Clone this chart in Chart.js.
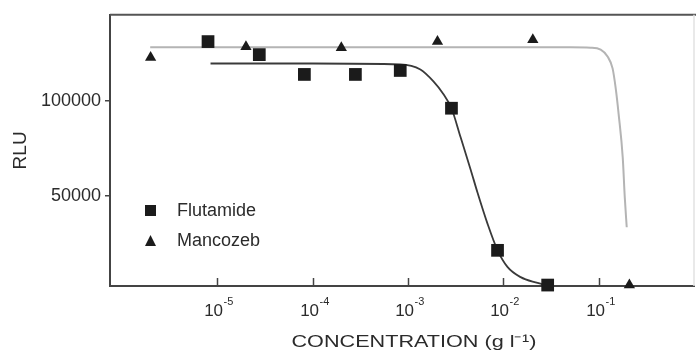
<!DOCTYPE html>
<html>
<head>
<meta charset="utf-8">
<script src="https://cdn.jsdelivr.net/npm/chart.js@4/dist/chart.umd.min.js"></script>
<style>
  html, body { margin: 0; padding: 0; background: #fff; }
  canvas { display: block; }
</style>
</head>
<body>
<canvas id="chart" width="696" height="350"></canvas>
<script>
// measured points (concentration in g/l, response in RLU)
const flutConc = [8.0e-6, 2.76e-5, 8.2e-5, 2.81e-4, 8.3e-4, 2.86e-3, 8.7e-3, 2.92e-2];
const flutRLU = [131600, 124700, 114200, 114200, 116300, 96300, 21000, 2600];
const mancConc = [2.0e-6, 2.0e-5, 2.0e-4, 2.04e-3, 2.04e-2, 0.21];
const mancRLU = [123200, 128900, 128400, 131600, 132600, 2600];

// fitted curves
const flutFitConc = [8.5e-6, 1e-4, 8.3e-4, 1.35e-3, 1.85e-3, 2.36e-3, 2.86e-3, 3.56e-3, 4.53e-3, 5.37e-3, 6.84e-3, 8.71e-3, 1.11e-2, 1.52e-2, 2.29e-2, 2.92e-2];
const flutFitRLU = [120000, 120000, 119500, 116800, 110500, 103700, 96300, 81000, 64000, 51500, 35000, 21000, 12100, 6800, 3700, 2100];
const mancFitConc = [1.98e-6, 5.08e-2, 8.24e-2, 0.105, 0.124, 0.140, 0.151, 0.162, 0.179, 0.188, 0.197];
const mancFitRLU = [128600, 128600, 128400, 127400, 123700, 117400, 106800, 93200, 70000, 48900, 33200];

// axes
const xTicks = [1e-5, 1e-4, 1e-3, 1e-2, 1e-1];
const xTickExp = ['-5', '-4', '-3', '-2', '-1'];
const yTicks = [50000, 100000];

const FONT = "'Liberation Sans', Arial, sans-serif";
const INK = '#2b2b2b';

function pts(xs, ys) {
    return xs.map((x, i) => ({ x: x, y: ys[i] }));
}

const framePlugin = {
    id: 'frame',
    afterDraw(chart) {
        const ctx = chart.ctx;
        const a = chart.chartArea;
        const x = chart.scales.x;
        ctx.save();
        // top border and faint right border
        ctx.strokeStyle = '#555';
        ctx.lineWidth = 2;
        ctx.beginPath();
        ctx.moveTo(a.left, a.top);
        ctx.lineTo(chart.width, a.top);
        ctx.stroke();
        ctx.strokeStyle = '#e2e2e2';
        ctx.lineWidth = 1.5;
        ctx.beginPath();
        ctx.moveTo(a.right, a.top);
        ctx.lineTo(a.right, a.bottom);
        ctx.stroke();
        // x ticks point inward, labels as 10 with a raised exponent
        ctx.strokeStyle = '#444';
        ctx.lineWidth = 1.5;
        ctx.fillStyle = INK;
        ctx.textBaseline = 'alphabetic';
        ctx.textAlign = 'left';
        xTicks.forEach((v, i) => {
            const px = Math.round(x.getPixelForValue(v)) + 0.5;
            ctx.beginPath();
            ctx.moveTo(px, a.bottom);
            ctx.lineTo(px, a.bottom - 8);
            ctx.stroke();
            ctx.font = '17px ' + FONT;
            const wBase = ctx.measureText('10').width;
            ctx.font = '11px ' + FONT;
            const wExp = ctx.measureText(xTickExp[i]).width;
            const x0 = px - (wBase + wExp) / 2 + 1;
            ctx.font = '17px ' + FONT;
            ctx.fillText('10', x0, 316);
            ctx.font = '11px ' + FONT;
            ctx.fillText(xTickExp[i], x0 + wBase + 0.5, 305);
        });
        // x axis title, stretched a little like the original
        ctx.font = '17px ' + FONT;
        const title = 'CONCENTRATION (g l⁻¹)';
        const tw = ctx.measureText(title).width;
        ctx.save();
        ctx.translate(414, 347);
        ctx.scale(245 / tw, 1);
        ctx.textAlign = 'center';
        ctx.fillText(title, 0, 0);
        ctx.restore();
        // legend
        ctx.fillStyle = '#1b1b1b';
        ctx.fillRect(145, 205, 11, 11);
        ctx.beginPath();
        ctx.moveTo(150.5, 235);
        ctx.lineTo(156, 246);
        ctx.lineTo(145, 246);
        ctx.closePath();
        ctx.fill();
        ctx.fillStyle = INK;
        ctx.font = '18px ' + FONT;
        ctx.textBaseline = 'middle';
        ctx.textAlign = 'left';
        ctx.fillText('Flutamide', 177, 211);
        ctx.fillText('Mancozeb', 177, 241);
        ctx.restore();
    }
};

new Chart(document.getElementById('chart'), {
    type: 'scatter',
    data: {
        datasets: [
            {
                label: 'Flutamide',
                data: pts(flutConc, flutRLU),
                pointStyle: 'rect',
                pointRadius: 9,
                backgroundColor: '#1b1b1b',
                borderColor: '#1b1b1b',
                borderWidth: 0,
                order: 0
            },
            {
                label: 'Mancozeb',
                data: pts(mancConc, mancRLU),
                pointStyle: 'triangle',
                pointRadius: 6.5,
                backgroundColor: '#1b1b1b',
                borderColor: '#1b1b1b',
                borderWidth: 0,
                order: 0
            },
            {
                type: 'line',
                label: 'Flutamide fit',
                data: pts(flutFitConc, flutFitRLU),
                borderColor: '#3a3a3a',
                borderWidth: 1.8,
                pointRadius: 0,
                cubicInterpolationMode: 'monotone',
                fill: false,
                order: 1
            },
            {
                type: 'line',
                label: 'Mancozeb fit',
                data: pts(mancFitConc, mancFitRLU),
                borderColor: '#b4b4b4',
                borderWidth: 2,
                pointRadius: 0,
                cubicInterpolationMode: 'monotone',
                fill: false,
                order: 1
            }
        ]
    },
    options: {
        responsive: false,
        animation: false,
        clip: false,
        layout: { autoPadding: false, padding: { top: 13, right: 2, left: 0, bottom: 0 } },
        plugins: {
            legend: { display: false },
            tooltip: { enabled: false }
        },
        scales: {
            x: {
                type: 'logarithmic',
                min: 7.5e-7,
                max: 1.0,
                afterBuildTicks: s => { s.ticks = xTicks.map(v => ({ value: v })); },
                afterFit: s => { s.height = 64; },
                grid: { display: true, drawOnChartArea: false, drawTicks: false },
                border: { display: true, color: '#444', width: 2 },
                ticks: { display: false },
                title: { display: false }
            },
            y: {
                type: 'linear',
                min: 2100,
                max: 145800,
                afterBuildTicks: s => { s.ticks = yTicks.map(v => ({ value: v })); },
                afterFit: s => { s.width = 110; },
                grid: { display: true, drawOnChartArea: false, drawTicks: true, tickLength: 5, color: '#444', lineWidth: 1.5 },
                border: { display: true, color: '#444', width: 2 },
                ticks: {
                    color: INK,
                    font: { family: FONT, size: 18 },
                    padding: 4,
                    callback: (v) => String(v)
                },
                title: {
                    display: true,
                    text: 'RLU',
                    color: INK,
                    font: { family: FONT, size: 19 },
                    padding: { top: 9, bottom: 0 }
                }
            }
        }
    },
    plugins: [framePlugin]
});
</script>
</body>
</html>
